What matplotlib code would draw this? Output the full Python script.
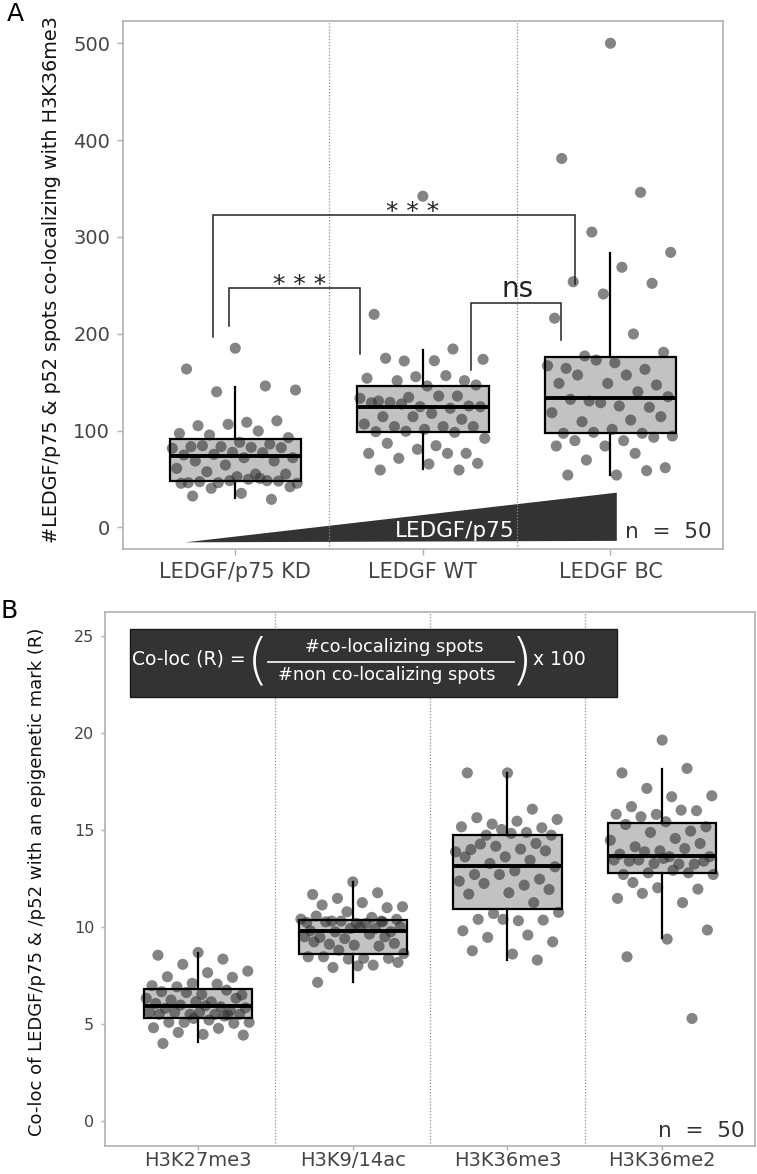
import numpy as np
import matplotlib
matplotlib.use("Agg")
import matplotlib.pyplot as plt
from matplotlib.patches import Polygon, Rectangle

# ---------------- data ----------------
groups_a = ["LEDGF/p75 KD", "LEDGF WT", "LEDGF BC"]
kd = [185, 163.5, 146, 140, 141.8, 108.5, 105, 110, 106.4, 97,
      99.5, 95.4, 92.6, 87.8, 83.3, 86, 83.3, 81.6, 82.6, 84.3,
      82.3, 77.5, 74.7, 77.1, 75.4, 71.9, 71.9, 68.5, 68.5, 64.4,
      60.9, 55, 57.4, 55, 52.3, 46.1, 48.2, 46.1, 45.5, 49.6,
      47.1, 47.8, 48.2, 45.5, 50.6, 40.3, 41.9, 35.1, 32.3, 28.9]
wt = [342, 220, 184.2, 171.8, 173.5, 172.1, 174.6, 151.5, 155.6, 154,
      156.7, 151.5, 147, 146, 130.5, 135.6, 134.3, 133.3, 135.6, 129.1,
      125.3, 124.6, 128.7, 123, 127.4, 124.6, 117.7, 114.3, 111.6, 114.3,
      106.7, 104, 104, 104, 101.2, 98.8, 98.1, 99.2, 91.9, 84.3,
      86.8, 76.4, 80.6, 76.4, 76.4, 71.3, 66.1, 65.4, 59.2, 59.2]
bc = [500, 381, 346, 305, 284, 268.6, 253.7, 252, 241, 216,
      199.7, 177, 180.8, 170, 164.2, 163.2, 172.8, 166.9, 157.3, 157.3,
      147, 148.7, 148.7, 140, 130.5, 134.9, 125.3, 132.2, 124, 128.7,
      118.4, 110.8, 109.1, 114.3, 101.2, 97.1, 97.1, 98.1, 94.3, 89.5,
      89.5, 93, 84, 84, 76.4, 69.5, 61.6, 54, 54, 58.5]
# box statistics (ggplot boxes)
a_whislo = [30, 59.9, 54]
a_q1 = [48.2, 98.4, 97.7]
a_med = [73.7, 124, 133.3]
a_q3 = [91.2, 146.3, 175.6]
a_whishi = [144.6, 183, 283]
# significance brackets
br_x1 = [0.965, 0.883, 2.256]
br_x2 = [1.665, 2.81, 2.736]
br_top = [247.5, 323, 232]
br_left_end = [208, 197, 163]
br_right_end = [179, 251, 193]
br_label = ["* * *", "* * *", "ns"]
br_label_x = [1.345, 1.945, 2.503]
br_label_y = [243.3, 318.7, 238]

groups_b = ["H3K27me3", "H3K9/14ac", "H3K36me3", "H3K36me2"]
k27me3 = [8.69, 8.55, 8.35, 8.08, 7.73, 7.65, 7.44, 7.41, 7.10, 6.98,
          7.06, 6.92, 6.50, 6.53, 6.67, 6.75, 6.63, 6.33, 6.15, 6.24,
          6.33, 6.15, 6.06, 5.89, 5.98, 5.84, 5.94, 5.81, 5.72, 5.50,
          5.60, 5.50, 5.60, 5.50, 5.60, 5.50, 5.41, 5.09, 5.09, 5.21,
          5.09, 5.04, 5.29, 4.81, 4.78, 4.57, 4.43, 4.47, 4.00, 5.47]
k9ac = [12.33, 11.68, 11.77, 11.48, 11.05, 11.26, 11.14, 11.00, 10.79, 10.24,
        10.50, 10.31, 10.40, 10.19, 10.57, 10.31, 10.31, 10.41, 10.19, 10.27,
        9.76, 9.93, 9.81, 9.93, 9.76, 10.02, 10.02, 9.47, 9.50, 9.41,
        9.50, 9.64, 9.12, 9.16, 9.07, 9.24, 9.02, 8.81, 8.64, 8.39,
        8.47, 8.39, 8.35, 8.47, 8.04, 7.92, 8.18, 8.00, 7.15, 10.27]
k36me3 = [17.95, 17.95, 16.08, 15.31, 15.55, 15.46, 15.64, 15.12, 15.03, 15.17,
          14.88, 14.74, 14.74, 14.83, 14.0, 14.31, 14.17, 13.88, 14.02, 14.28,
          13.93, 13.62, 13.62, 13.45, 13.28, 13.11, 12.90, 12.71, 12.47, 12.71,
          12.37, 12.16, 12.25, 11.94, 11.77, 11.70, 11.26, 10.70, 10.76, 10.33,
          10.40, 10.36, 10.40, 9.81, 9.59, 9.47, 9.24, 8.61, 8.78, 8.30]
k36me2 = [19.64, 17.95, 18.18, 17.15, 16.77, 16.72, 16.21, 16.0, 15.81, 15.82,
          16.03, 15.69, 15.17, 15.43, 15.29, 14.95, 14.88, 14.48, 14.57, 14.14,
          14.31, 13.93, 13.76, 14.05, 13.88, 13.63, 13.63, 13.40, 13.25, 13.28,
          13.46, 13.25, 13.46, 13.40, 13.54, 12.71, 12.80, 12.80, 12.71, 12.93,
          12.30, 11.96, 12.03, 11.48, 11.26, 11.74, 9.85, 9.38, 8.47, 5.29]
b_whislo = [4.09, 7.18, 8.30, 9.42]
b_q1 = [5.31, 8.61, 10.91, 12.77]
b_med = [5.93, 9.79, 13.16, 13.68]
b_q3 = [6.79, 10.36, 14.74, 15.38]
b_whishi = [8.64, 12.30, 17.95, 18.14]

n_text = "n  =  50"

# ---------------- styling ----------------
plt.rcParams["font.family"] = ["DejaVu Sans"]
W, H = 757, 1174
fig = plt.figure(figsize=(W / 100, H / 100), dpi=100)

PT_COL = "#333333"
BOX_FILL = "#c2c2c2"
SPINE = "#b0b0b0"
TICKLAB = "#444444"


def qjitter(n, half=0.34):
    phi = (np.sqrt(5) - 1) / 2
    return ((np.arange(n) * phi + 0.5) % 1.0 - 0.5) * 2 * half


def boxes(ax, stats, pos):
    ax.bxp(stats, positions=pos, widths=0.7, showfliers=False, showcaps=False,
           patch_artist=True,
           boxprops=dict(facecolor=BOX_FILL, edgecolor="none", linewidth=0),
           whiskerprops=dict(linewidth=0), medianprops=dict(linewidth=0),
           zorder=1)
    ax.bxp(stats, positions=pos, widths=0.7, showfliers=False, showcaps=False,
           patch_artist=True,
           boxprops=dict(facecolor="none", edgecolor="black", linewidth=1.6),
           whiskerprops=dict(color="black", linewidth=1.6),
           medianprops=dict(color="black", linewidth=2.8, solid_capstyle="butt"),
           zorder=3)


def make_stats(lo, q1, med, q3, hi):
    return [dict(whislo=a, q1=b, med=c, q3=d, whishi=e, fliers=[])
            for a, b, c, d, e in zip(lo, q1, med, q3, hi)]


def style(ax, ylab_size, xlab_size, xpad, tlen):
    for s in ax.spines.values():
        s.set_color(SPINE)
        s.set_linewidth(1.2)
    ax.tick_params(axis="both", color=SPINE, labelcolor=TICKLAB, length=tlen,
                   width=1, pad=5)
    ax.tick_params(axis="y", labelsize=ylab_size)
    ax.tick_params(axis="x", labelsize=xlab_size, pad=xpad)


# ---------------- panel A ----------------
axA = fig.add_axes([122.7 / W, 1 - 549.3 / H, (723 - 122.7) / W, (549.3 - 20.7) / H])
axA.set_xlim(0.4, 3.6)
axA.set_ylim(-22.7, 523.3)
for xv in (1.5, 2.5):
    axA.axvline(xv, color="#8c8c8c", lw=0.9, ls=(0, (1, 1.5)), zorder=2.5)
boxes(axA, make_stats(a_whislo, a_q1, a_med, a_q3, a_whishi), [1, 2, 3])
for i, vals in enumerate([kd, wt, bc]):
    x = (i + 1) + qjitter(len(vals))
    axA.scatter(x, vals, s=64, c=PT_COL, alpha=0.6, edgecolors="none", zorder=2)

axA.add_patch(Polygon([(0.734, -15.5), (3.034, -14), (3.034, 35.8)],
                      closed=True, facecolor="#333333", edgecolor="none", zorder=2))
axA.text(2.17, -10, "LEDGF/p75", color="white", fontsize=15.5, ha="center",
         va="baseline", zorder=4)
axA.text(3.54, -11, n_text, color="#333333", fontsize=15.5, ha="right",
         va="baseline", zorder=4)

for x1, x2, t, yl, yr, lab, lx, ly in zip(br_x1, br_x2, br_top, br_left_end,
                                           br_right_end, br_label, br_label_x, br_label_y):
    axA.plot([x1, x1, x2, x2], [yl, t, t, yr], color="#222222", lw=1.1, zorder=4,
             solid_joinstyle="miter")
    fs = 20 if lab == "ns" else 18
    axA.text(lx, ly, lab, fontsize=fs, ha="center", va="baseline", color="#222222",
             zorder=4)

axA.set_xticks([1, 2, 3])
axA.set_xticklabels(groups_a)
axA.set_yticks([0, 100, 200, 300, 400, 500])
style(axA, 14, 15, 5, 4)

fig.text(52 / W, 1 - 280 / H, "#LEDGF/p75 & p52 spots co-localizing with H3K36me3",
         rotation=90, ha="center", va="center", fontsize=13.8, color="#111111")
fig.text(15 / W, 1 - 14 / H, "A", fontsize=18, ha="center", va="center")

# ---------------- panel B ----------------
axB = fig.add_axes([105.3 / W, 1 - 1145.7 / H, (755 - 105.3) / W, (1145.7 - 611.7) / H])
axB.set_xlim(0.4, 4.6)
axB.set_ylim(-1.27, 26.26)
for xv in (1.5, 2.5, 3.5):
    axB.axvline(xv, color="#8c8c8c", lw=0.9, ls=(0, (1, 1.5)), zorder=2.5)
boxes(axB, make_stats(b_whislo, b_q1, b_med, b_q3, b_whishi), [1, 2, 3, 4])
for i, vals in enumerate([k27me3, k9ac, k36me3, k36me2]):
    x = (i + 1) + qjitter(len(vals))
    axB.scatter(x, vals, s=64, c=PT_COL, alpha=0.6, edgecolors="none", zorder=2)

axB.add_patch(Rectangle((0.56, 21.86), 3.15, 3.5, facecolor="#333333",
                        edgecolor="#1a1a1a", lw=1, zorder=5))
axB.text(0.575, 23.81, "Co-loc (R) =", color="white", fontsize=13.5, ha="left",
         va="center", zorder=6)
axB.text(1.386, 23.62, "(", color="white", fontsize=40, ha="center", va="center",
         zorder=6, fontweight="light")
axB.text(3.095, 23.62, ")", color="white", fontsize=40, ha="center", va="center",
         zorder=6, fontweight="light")
axB.plot([1.454, 3.041], [23.68, 23.68], color="white", lw=1.2, zorder=6)
axB.text(2.27, 24.43, "#co-localizing spots", color="white", fontsize=12.8,
         ha="center", va="center", zorder=6)
axB.text(2.221, 22.99, "#non co-localizing spots", color="white", fontsize=12.8,
         ha="center", va="center", zorder=6)
axB.text(3.163, 23.81, "x 100", color="white", fontsize=13.5, ha="left",
         va="center", zorder=6)

axB.text(4.53, -0.82, n_text, color="#333333", fontsize=15.5, ha="right",
         va="baseline", zorder=4)

axB.set_xticks([1, 2, 3, 4])
axB.set_xticklabels(groups_b)
axB.set_yticks([0, 5, 10, 15, 20, 25])
style(axB, 11.5, 14, 1, 3)

fig.text(37 / W, 1 - 882 / H, "Co-loc of LEDGF/p75 & /p52 with an epigenetic mark (R)",
         rotation=90, ha="center", va="center", fontsize=13, color="#111111")
fig.text(9 / W, 1 - 611 / H, "B", fontsize=18, ha="center", va="center")

fig.savefig("out.png", dpi=100)
